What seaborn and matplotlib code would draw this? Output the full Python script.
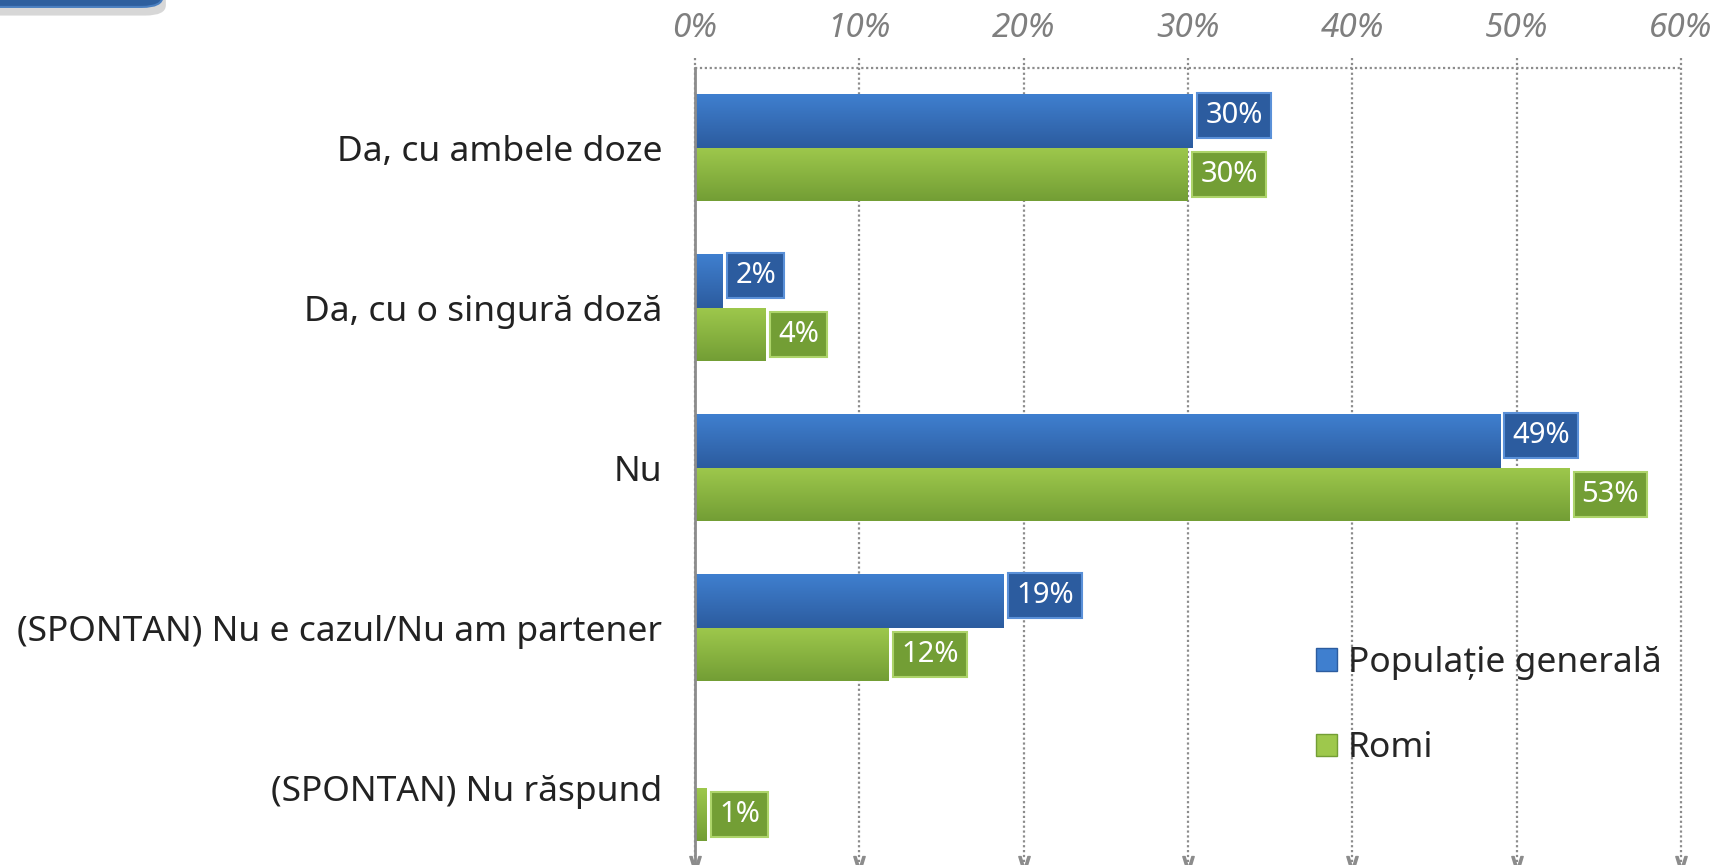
import numpy as np
import pandas as pd
import matplotlib
matplotlib.use("Agg")
import matplotlib.pyplot as plt
import seaborn as sns
from matplotlib.colors import LinearSegmentedColormap
from matplotlib.patches import Patch, FancyBboxPatch

# -------------------------------------------------------
# Data
# -------------------------------------------------------

categories = [
    "Da, cu ambele doze",
    "Da, cu o singură doză",
    "Nu",
    "(SPONTAN) Nu e cazul/Nu am partener",
    "(SPONTAN) Nu răspund",
]
series_names = ["Populație generală", "Romi"]
general_pop = [30.3, 1.7, 49.0, 18.8, 0.0]
roma = [30.0, 4.3, 53.2, 11.8, 0.7]
general_labels = ["30%", "2%", "49%", "19%", ""]
roma_labels = ["30%", "4%", "53%", "12%", "1%"]
x_ticks = [0, 10, 20, 30, 40, 50, 60]
x_tick_labels = ["0%", "10%", "20%", "30%", "40%", "50%", "60%"]

BLUE_TOP, BLUE_BOT, BLUE_EDGE = "#3f7fcf", "#2c5c9f", "#5a90d8"
GREEN_TOP, GREEN_BOT, GREEN_EDGE = "#9ec84c", "#739e35", "#add46a"

df = pd.DataFrame({
    "category": categories * 2,
    "value": general_pop + roma,
    "series": [series_names[0]] * 5 + [series_names[1]] * 5,
})

# -------------------------------------------------------
# Figure
# -------------------------------------------------------

sns.set_theme(style="white")
plt.rcParams["font.family"] = ["Noto Sans", "DejaVu Sans"]

fig = plt.figure(figsize=(17.10, 8.65), dpi=100)
ax = fig.add_axes([0.4064, -0.003, 0.5766, 0.9249])

sns.barplot(
    data=df, y="category", x="value", hue="series", orient="h",
    palette=[BLUE_TOP, GREEN_TOP], width=0.67, ax=ax, legend=False,
    saturation=1, linewidth=0,
)

# gradient fill on each bar
bars = [p for p in ax.patches]
for i, bar in enumerate(bars):
    blue = i < len(categories)
    cmap = LinearSegmentedColormap.from_list(
        "g", [BLUE_TOP, BLUE_BOT] if blue else [GREEN_TOP, GREEN_BOT])
    x0, y0 = bar.get_x(), bar.get_y()
    w, h = bar.get_width(), bar.get_height()
    if w <= 0:
        continue
    im = ax.imshow(np.linspace(0, 1, 64).reshape(-1, 1), cmap=cmap,
                   extent=[x0, x0 + w, y0 + h, y0], aspect="auto", zorder=2)
    im.set_clip_path(bar)

# data labels (boxed, white text)
for i, bar in enumerate(bars):
    blue = i < len(categories)
    lab = (general_labels + roma_labels)[i]
    if not lab:
        continue
    ax.annotate(
        lab, xy=(bar.get_x() + bar.get_width(), bar.get_y() + bar.get_height() / 2),
        xytext=(9, 4 if blue else 0), textcoords="offset points",
        ha="left", va="center",
        fontsize=21, color="white", zorder=5,
        bbox=dict(boxstyle="square,pad=0.28",
                  fc=BLUE_BOT if blue else GREEN_BOT,
                  ec=BLUE_EDGE if blue else GREEN_EDGE, lw=1.5),
    )

ax.set_xlim(0, 60)
ax.set_ylim(4.5, -0.5)

# dotted grid lines, running slightly above the top with chevrons at bottom
ax.vlines(x_ticks, -0.56, 4.47, colors="#8c8c8c", linestyles=(0, (1, 1.2)),
          linewidth=1.6, zorder=0, clip_on=False)
ax.hlines(-0.5, 0, 60, colors="#8c8c8c", linestyles=(0, (1, 1.2)),
          linewidth=1.6, zorder=0, clip_on=False)
ax.plot(x_ticks, [4.47] * len(x_ticks), linestyle="none", marker=r"$\vee$",
        markersize=10, color="#8c8c8c", clip_on=False, zorder=0)

# axes cosmetics
for side in ["top", "right", "bottom"]:
    ax.spines[side].set_visible(False)
ax.spines["left"].set_color("#8c8c8c")
ax.spines["left"].set_linewidth(2)

ax.xaxis.tick_top()
ax.set_xticks(x_ticks)
ax.set_xticklabels(x_tick_labels, fontsize=24, style="italic", color="#7f7f7f")
ax.tick_params(axis="x", length=0, pad=16)
ax.set_xlabel("")
ax.set_ylabel("")

ax.set_yticks(range(len(categories)))
ax.set_yticklabels(categories, fontsize=25.5, color="#222222")
ax.set_yticks(np.arange(-0.5, len(categories), 1.0), minor=True)
ax.tick_params(axis="y", which="major", length=0, pad=23.5)
ax.tick_params(axis="y", which="minor", length=8, width=1.5, color="#8c8c8c")

# legend
handles = [Patch(facecolor=BLUE_TOP, edgecolor=BLUE_BOT),
           Patch(facecolor=GREEN_TOP, edgecolor=GREEN_BOT)]
fig.legend(handles, series_names, loc="upper left",
           bbox_to_anchor=(1284 / 1710, 1 - 614 / 865), frameon=False,
           fontsize=25.5, handlelength=0.6, handleheight=0.6,
           handletextpad=0.3, labelspacing=1.45)

# corner banner of the slide
shadow = FancyBboxPatch((-0.05, 0.982), 0.147, 0.08,
                        boxstyle="round,pad=0,rounding_size=0.012",
                        transform=fig.transFigure, fc="#bdbdbd", ec="none",
                        alpha=0.6, zorder=0)
banner = FancyBboxPatch((-0.05, 0.992), 0.145, 0.08,
                        boxstyle="round,pad=0,rounding_size=0.012",
                        transform=fig.transFigure, fc="#2e5f9e", ec="#4a7fc0",
                        lw=1.5, zorder=1)
fig.patches.extend([shadow, banner])

fig.savefig("out.png", dpi=100)
